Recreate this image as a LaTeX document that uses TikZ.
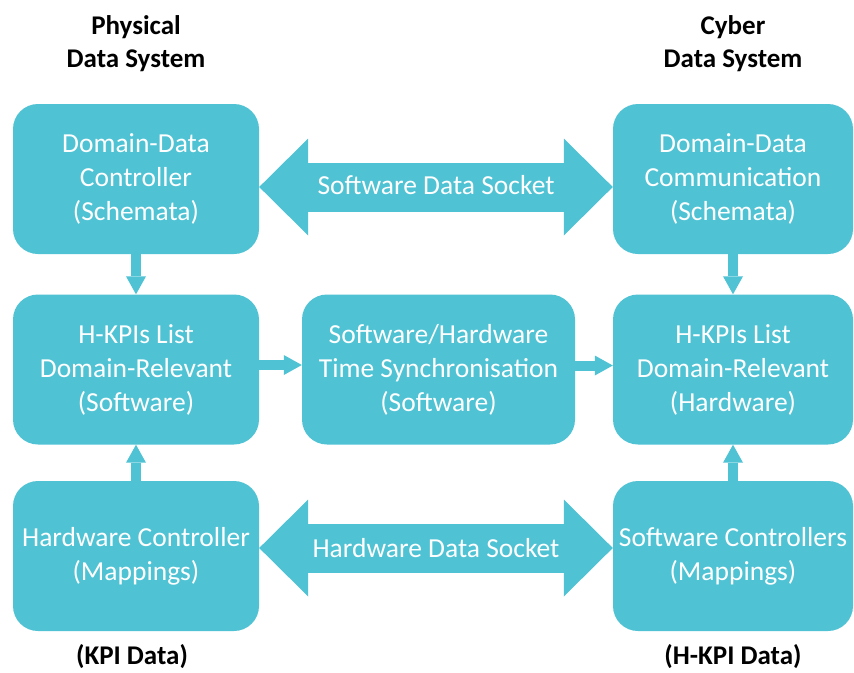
\documentclass[tikz,border=0pt]{standalone}
\usepackage{fontspec}
\setmainfont{Carlito}
\usetikzlibrary{arrows.meta}
\definecolor{boxc}{RGB}{79,195,212}
\begin{document}
\begin{tikzpicture}[x=1pt,y=-1pt,
  box/.style={fill=boxc, rounded corners=25pt, text=white, align=center, inner sep=0pt,
    minimum height=150pt, font=\fontsize{27.5}{34}\selectfont},
  smallarrow/.style={draw=boxc, line width=10pt, -{Triangle[width=20pt,length=18pt,line width=0pt]}},
  bigarrow/.style={draw=boxc, line width=49pt,
    {Triangle[width=97pt,length=49pt,line width=0pt]}-{Triangle[width=97pt,length=49pt,line width=0pt]}},
  head/.style={align=center, font=\fontsize{27}{33}\selectfont\bfseries, inner sep=0pt},
  lbl/.style={text=white, font=\fontsize{27.5}{34}\selectfont, inner sep=0pt}]
\useasboundingbox (0,0) rectangle (854,672);
\fill[white] (0,0) rectangle (854,672);

% left column
\node[box, minimum width=246pt] (dc) at (136,179) {Domain-Data\\Controller\\(Schemata)};
\node[box, minimum width=246pt] (hs) at (136,369.5) {H-KPIs List\\Domain-Relevant\\(Software)};
\node[box, minimum width=246pt] (hc) at (136,556) {Hardware Controller\\(Mappings)};
% middle
\node[box, minimum width=273pt] (ts) at (438.5,369.5) {Software/Hardware\\Time Synchronisation\\(Software)};
% right column
\node[box, minimum width=240pt] (dm) at (733,179) {Domain-Data\\Communication\\(Schemata)};
\node[box, minimum width=240pt] (hh) at (733,369.5) {H-KPIs List\\Domain-Relevant\\(Hardware)};
\node[box, minimum width=240pt] (sc) at (733,556) {Software Controllers\\(Mappings)};

% headings
\node[head] (phys) at (136,44) {Physical\\Data System};
\node[head] (cyber) at (733,44) {Cyber\\Data System};
\node[head] (kpi) at (132,657) {(KPI Data)};
\node[head] (hkpi) at (733,657) {(H-KPI Data)};

% small arrows
\draw[smallarrow] (dc.south) -- (hs.north);
\draw[smallarrow] (hc.north) -- (hs.south);
\draw[smallarrow] (dm.south) -- (hh.north);
\draw[smallarrow] (sc.north) -- (hh.south);
\draw[smallarrow] ([yshift=4.5pt]hs.east) -- ([yshift=4.5pt]ts.west);
\draw[smallarrow] ([yshift=4pt]ts.east) -- ([yshift=4pt]hh.west);

% big double arrows
\draw[bigarrow] ([yshift=-8pt]dc.east) -- node[lbl, yshift=2pt] (sds) {Software Data Socket} ([yshift=-8pt]dm.west);
\draw[bigarrow] ([yshift=8pt]hc.east) -- node[lbl] (hds) {Hardware Data Socket} ([yshift=8pt]sc.west);
\end{tikzpicture}
\end{document}
